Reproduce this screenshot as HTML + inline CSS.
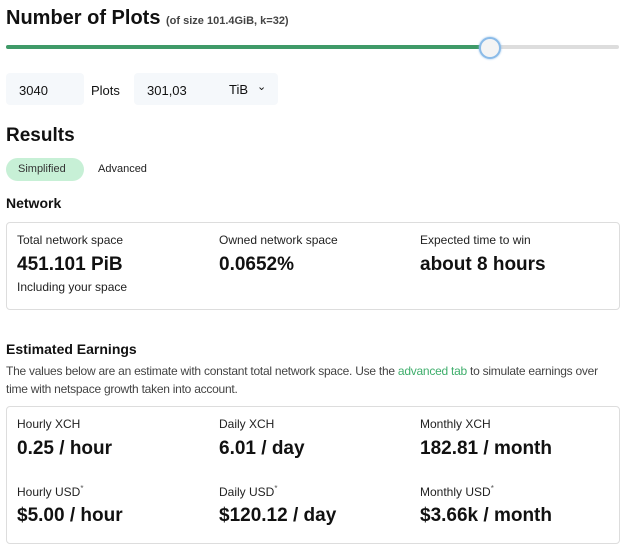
<!DOCTYPE html><html><head><style>
body{margin:0;width:629px;height:550px;background:#fff;font-family:"Liberation Sans",sans-serif;color:#111;position:relative;overflow:hidden}
.a{position:absolute;white-space:nowrap}
.box{position:absolute;border:1px solid #ddd;border-radius:4px}
.lab{font-size:12px;color:#222}
.val{font-size:19px;font-weight:bold}
sup{font-size:8px;color:#555}
</style></head><body>
<div class="a" style="left:6px;top:7px;font-size:20px;font-weight:bold">Number of Plots <span style="font-size:11px;color:#444">(of size 101.4GiB, k=32)</span></div>
<div class="a" style="left:6px;top:45px;width:613px;height:4px;background:#ddd;border-radius:2px"></div>
<div class="a" style="left:6px;top:45px;width:484px;height:4px;background:#3f9a68;border-radius:2px"></div>
<div class="a" style="left:479px;top:37px;width:18px;height:18px;border-radius:50%;background:#f4f4f4;border:2px solid #8bbbe8;box-shadow:0 0 2px #8bbbe8"></div>
<div class="a" style="left:6px;top:73px;width:78px;height:32px;background:#f5f8fb;border-radius:4px"></div>
<div class="a" style="left:19px;top:83px;font-size:13px">3040</div>
<div class="a" style="left:91px;top:83px;font-size:13px">Plots</div>
<div class="a" style="left:134px;top:73px;width:144px;height:32px;background:#f5f8fb;border-radius:4px"></div>
<div class="a" style="left:147px;top:83px;font-size:13px">301,03</div>
<div class="a" style="left:229px;top:82px;font-size:13px">TiB</div>
<div class="a" style="left:257px;top:80px;font-size:11px">&#8964;</div>
<div class="a" style="left:6px;top:125px;font-size:19px;font-weight:bold">Results</div>
<div class="a" style="left:6px;top:158px;width:78px;height:23px;background:#c7f0d6;border-radius:12px"></div>
<div class="a" style="left:18px;top:163px;font-size:11px;color:#333">Simplified</div>
<div class="a" style="left:98px;top:163px;font-size:11px;color:#222">Advanced</div>
<div class="a" style="left:6px;top:195px;font-size:14px;font-weight:bold">Network</div>
<div class="box" style="left:6px;top:222px;width:612px;height:86px"></div>
<div class="a lab" style="left:17px;top:233px">Total network space</div>
<div class="a val" style="left:17px;top:254px">451.101 PiB</div>
<div class="a lab" style="left:17px;top:280px">Including your space</div>
<div class="a lab" style="left:219px;top:233px">Owned network space</div>
<div class="a val" style="left:219px;top:254px">0.0652%</div>
<div class="a lab" style="left:420px;top:233px">Expected time to win</div>
<div class="a val" style="left:420px;top:254px">about 8 hours</div>
<div class="a" style="left:6px;top:341px;font-size:14px;font-weight:bold">Estimated Earnings</div>
<div class="a" style="left:6px;top:362px;font-size:12px;color:#444;line-height:18px;letter-spacing:-0.25px">The values below are an estimate with constant total network space. Use the <span style="color:#3fae6c">advanced tab</span> to simulate earnings over</div>
<div class="a" style="left:6px;top:380px;font-size:12px;color:#444;line-height:18px;letter-spacing:-0.25px">time with netspace growth taken into account.</div>
<div class="box" style="left:6px;top:406px;width:612px;height:136px"></div>
<div class="a lab" style="left:17px;top:417px">Hourly XCH</div>
<div class="a val" style="left:17px;top:438px">0.25 / hour</div>
<div class="a lab" style="left:219px;top:417px">Daily XCH</div>
<div class="a val" style="left:219px;top:438px">6.01 / day</div>
<div class="a lab" style="left:420px;top:417px">Monthly XCH</div>
<div class="a val" style="left:420px;top:438px">182.81 / month</div>
<div class="a lab" style="left:17px;top:484px">Hourly USD<sup>*</sup></div>
<div class="a val" style="left:17px;top:505px">$5.00 / hour</div>
<div class="a lab" style="left:219px;top:484px">Daily USD<sup>*</sup></div>
<div class="a val" style="left:219px;top:505px">$120.12 / day</div>
<div class="a lab" style="left:420px;top:484px">Monthly USD<sup>*</sup></div>
<div class="a val" style="left:420px;top:505px">$3.66k / month</div>
</body></html>
